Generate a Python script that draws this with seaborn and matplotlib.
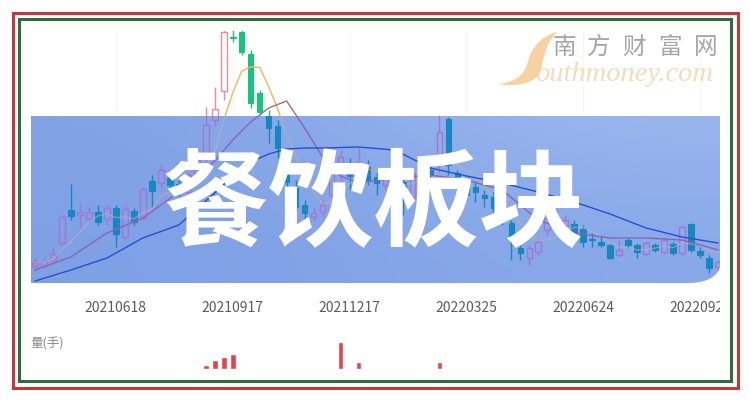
import numpy as np
import pandas as pd
import matplotlib
matplotlib.use("Agg")
import matplotlib.pyplot as plt
import seaborn as sns
from matplotlib.patches import Rectangle, PathPatch
from matplotlib.path import Path
from matplotlib.transforms import Bbox, TransformedBbox, blended_transform_factory

sns.set_theme(style="white")
plt.rcParams['font.family'] = ['Noto Sans CJK SC', 'DejaVu Sans']

# ---------------- data (weekly candles) ----------------
opens = [34, 34, 40, 57, 90, 85, 81, 88, 81, 92, 63, 89, 82, 119, 117, 122, 116, 108, 124, 143,
         180, 209, 263, 268, 246, 207, 184, 174, 145, 112, 95, 83, 88, 105, 128, 135, 128, 133, 123, 115,
         123, 118, 102, 120, 130, 138, 181, 127, 118, 113, 105, 103, 93, 77, 52, 42, 48, 70, 82, 74,
         76, 71, 61, 58, 55, 45, 60, 55, 46, 55, 48, 56, 47, 76, 49, 42, 33]
highs = [42, 42, 53, 85, 116, 97, 93, 95, 95, 95, 94, 92, 113, 125, 136, 128, 122, 128, 148, 193,
         213, 275, 275, 275, 250, 210, 190, 180, 150, 120, 100, 92, 100, 140, 150, 142, 153, 140, 128, 128,
         127, 122, 133, 136, 138, 185, 183, 130, 122, 118, 110, 108, 96, 80, 55, 55, 62, 88, 90, 85,
         80, 75, 67, 65, 57, 60, 62, 57, 59, 57, 63, 58, 75, 77, 53, 45, 40]
lows = [28, 32, 38, 55, 80, 73, 77, 75, 75, 53, 60, 75, 80, 93, 112, 110, 104, 105, 120, 138,
        174, 200, 258, 245, 192, 185, 157, 142, 112, 88, 80, 80, 84, 100, 120, 110, 120, 115, 105, 110,
        103, 85, 98, 115, 120, 128, 125, 110, 100, 98, 93, 88, 75, 40, 40, 35, 45, 65, 70, 70,
        60, 53, 53, 53, 41, 43, 52, 42, 45, 48, 46, 45, 45, 48, 42, 27, 30]
closes = [37, 39, 46, 83, 84, 88, 88, 78, 92, 66, 91, 78, 111, 109, 130, 115, 108, 125, 140, 175,
          191, 268, 262, 248, 197, 188, 172, 152, 118, 93, 87, 87, 95, 130, 143, 124, 138, 120, 117, 122,
          117, 100, 127, 132, 125, 168, 135, 115, 105, 108, 102, 92, 80, 62, 47, 52, 58, 82, 75, 80,
          68, 58, 60, 55, 42, 50, 55, 48, 57, 50, 60, 47, 73, 50, 45, 32, 38]

# moving averages
ma10_idx = [0, 4, 8, 12, 14, 16, 18, 20, 22, 24, 26, 28, 30, 32, 34, 36, 40, 44, 48, 52, 56, 60,
            64, 68, 72, 76]
ma10 = [30, 43, 67, 82, 95, 108, 122, 139, 160, 178, 192, 199, 172, 143, 124, 117, 122, 125, 120,
        110, 80, 67, 62, 62, 60, 50]
ma20_idx = [0, 4, 8, 12, 16, 20, 22, 24, 26, 28, 30, 32, 36, 40, 44, 48, 52, 56, 60, 64, 68, 72, 76]
ma20 = [19, 30, 42, 62, 75, 107, 124, 138, 146, 151, 152, 152, 153, 150, 132, 124, 117, 108, 98,
        86, 72, 63, 57]

# volume (only weeks with visible bars)
vol_idx = [4, 19, 20, 21, 22, 34, 36, 45]
vol_val = [1, 4, 9, 12, 15, 27, 7, 7]

tick_idx = [9, 22, 35, 48, 61, 74]
tick_labels = ["20210618", "20210917", "20211217", "20220325", "20220624", "20220922"]

title_text = "餐饮板块"
brand_cn = "南方财富网"
brand_en = "outhmoney.com"
vol_label = "量(手)"

# ---------------- figure ----------------
W, H = 750, 400
fig = plt.figure(figsize=(7.5, 4), dpi=100)
fig.patch.set_facecolor("white")

ax = fig.add_axes([31 / W, 1 - 285 / H, 689 / W, 254 / H])
ax.set_facecolor("white")
for s in ax.spines.values():
    s.set_visible(False)
ax.set_xticks([])
ax.set_yticks([])

df = pd.DataFrame({"i": np.arange(len(closes)), "o": opens, "h": highs, "l": lows, "c": closes})
df["ma5"] = df["c"].rolling(5, min_periods=1).mean()
ma10_df = pd.DataFrame({"i": ma10_idx, "v": ma10})
ma20_df = pd.DataFrame({"i": ma20_idx, "v": ma20})

XLIM = (-0.445, 76.22)
YLIM = (15, 269)

# overlay shape (axes coords) with rounded bottom-right corner
aw, ah = 689.0, 254.0
b, t, r = 2.0, 169.0, 689.0
verts = [(0, b), (654, b), (675, b), (r, 8), (r, 22), (r, t), (0, t), (0, b)]
codes = [Path.MOVETO, Path.LINETO, Path.CURVE4, Path.CURVE4, Path.CURVE4,
         Path.LINETO, Path.LINETO, Path.CLOSEPOLY]
verts = [(x / aw, y / ah) for x, y in verts]
overlay = PathPatch(Path(verts, codes), transform=ax.transAxes,
                    facecolor="#83a5e7", edgecolor="none", zorder=2)
ax.add_patch(overlay)


def draw_candles(up_col, dn_col, z, clip=None):
    up = df[df.c >= df.o]
    dn = df[df.c < df.o]
    arts = []
    arts.append(ax.vlines(dn.i, dn.l, dn.h, color=dn_col, lw=1.0, zorder=z))
    arts.append(ax.vlines(up.i, up.c, up.h, color=up_col, lw=1.0, zorder=z))
    arts.append(ax.vlines(up.i, up.l, up.o, color=up_col, lw=1.0, zorder=z))
    bars_dn = ax.bar(dn.i, (dn.o - dn.c).clip(lower=0.6), bottom=dn.c, width=0.62,
                     color=dn_col, edgecolor=dn_col, lw=0.8, zorder=z)
    bars_up = ax.bar(up.i, (up.c - up.o).clip(lower=0.6), bottom=up.o, width=0.62,
                     facecolor="none", edgecolor=up_col, lw=1.0, zorder=z)
    arts += list(bars_dn) + list(bars_up)
    if clip is not None:
        for a in arts:
            a.set_clip_path(clip)


def draw_mas(c5, c10, c20, z, clip=None, a5=1.0):
    n0 = len(ax.lines)
    sns.lineplot(data=df, x="i", y="ma5", ax=ax, color=c5, lw=1.0, zorder=z, alpha=a5)
    sns.lineplot(data=ma10_df, x="i", y="v", ax=ax, color=c10, lw=1.0, zorder=z)
    sns.lineplot(data=ma20_df, x="i", y="v", ax=ax, color=c20, lw=1.0, zorder=z)
    if clip is not None:
        for ln in ax.lines[n0:]:
            ln.set_clip_path(clip)


# faint grid
for ti in tick_idx:
    ax.axvline(ti, color="#f7f7f7", lw=1.0, zorder=0)

# normal layer (visible above overlay)
draw_candles("#f08a9c", "#19c27f", 1)
draw_mas("#f1b45e", "#9a6d9e", "#3a63d6", 1)

# overlay gradient
grad = np.array([[[130, 164, 230], [160, 189, 239]],
                 [[126, 160, 229], [136, 168, 233]]]) / 255.0
im = ax.imshow(grad, extent=[0, 1, 0, 1], transform=ax.transAxes, aspect="auto",
               interpolation="bicubic", zorder=2.1)
im.set_clip_path(overlay)

# tinted layer inside overlay
draw_candles("#a574d4", "#1787c2", 3, clip=overlay)
draw_mas("#c9b2a8", "#8c63b8", "#2550d0", 3, clip=overlay, a5=0.55)

ax.set_xlim(*XLIM)
ax.set_ylim(*YLIM)
ax.set_xlabel("")
ax.set_ylabel("")

# x tick labels (clipped at the chart's right edge)
blend = blended_transform_factory(ax.transData, fig.transFigure)
clipbox = TransformedBbox(Bbox([[0, 0], [720 / W, 1]]), fig.transFigure)
for ti, lab in zip(tick_idx, tick_labels):
    tx = fig.text(ti, 1 - 308 / H, lab, transform=blend, ha="center", va="center",
                  fontsize=10, color="#5c5c5c")
    tx.set_clip_box(clipbox)
    tx.set_clip_on(True)

# volume panel
vax = fig.add_axes([31 / W, 31 / H, 689 / W, 39 / H])
vax.bar(vol_idx, vol_val, width=0.62, color="#ea4048", zorder=2)
vax.set_xlim(*XLIM)
vax.set_ylim(0, 39)
vax.axis("off")
fig.text(30 / W, 1 - 344 / H, vol_label, ha="left", va="center", fontsize=9, color="#8a8a8a")

# big title
fig.text(374 / W, 1 - 207 / H, title_text, ha="center", va="center", fontsize=76,
         fontweight="black", color="white", zorder=10)

# watermark
for k, ch in enumerate(brand_cn):
    fig.text([564, 599, 634, 670, 706][k] / W, 1 - 47 / H, ch, ha="center", va="center",
             fontsize=17, color="#a6a6a6", fontweight="light")
fig.text(535 / W, 1 - 81 / H, brand_en, ha="left", va="baseline", fontsize=20.5,
         family=["Liberation Serif", "DejaVu Serif"], style="italic", color="#f4dcbb")
sw = [(557, 32), (540, 36), (530, 50), (527, 65), (524, 76), (512, 83), (498, 84),
      (515, 87), (535, 84), (540, 72), (544, 60), (544, 45), (557, 32)]
swc = [Path.MOVETO] + [Path.CURVE4] * 12
sw = [(x / W, 1 - y / H) for x, y in sw]
fig.add_artist(PathPatch(Path(sw, swc), transform=fig.transFigure,
                         facecolor="#f6d2a0", edgecolor="none", zorder=5))

# frames
fig.add_artist(Rectangle((12.5 / W, 12.5 / H), 725 / W, 375 / H, transform=fig.transFigure,
                         fill=False, edgecolor="#c9363a", lw=2.2, zorder=20))
fig.add_artist(Rectangle((19 / W, 19.3 / H), 711.5 / W, 361.7 / H, transform=fig.transFigure,
                         fill=False, edgecolor="#2f6b3c", lw=2.2, zorder=21))

fig.savefig("out.png", dpi=100, facecolor="white")
